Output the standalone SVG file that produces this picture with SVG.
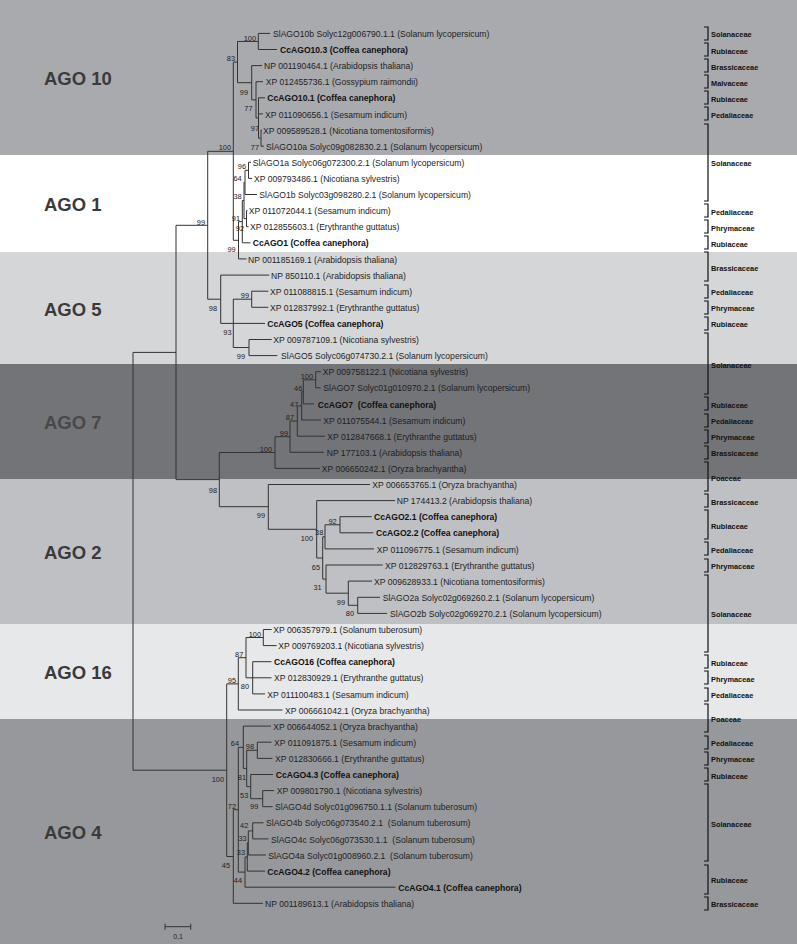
<svg xmlns="http://www.w3.org/2000/svg" width="797" height="944" viewBox="0 0 797 944">
<style>
.br{fill:none;stroke:#333;stroke-width:1}
.lf{font-family:"Liberation Sans",Arial,sans-serif;font-size:8.6px;fill:#1e1e1e;white-space:pre}
.b{font-weight:bold;fill:#111}
.bs{font-family:"Liberation Sans",Arial,sans-serif;font-size:7.4px;fill:#222;text-anchor:end}
.fam{font-family:"Liberation Sans",Arial,sans-serif;font-size:7.4px;font-weight:bold;fill:#111}
.bk{fill:none;stroke:#111;stroke-width:1.2}
.ago{font-family:"Liberation Sans",Arial,sans-serif;font-size:18.5px;font-weight:bold;fill:#3a3a3c}
</style>
<g id="bands">
<rect x="0" y="0" width="797" height="155" fill="#a9aaae"/>
<rect x="0" y="155" width="797" height="97" fill="#ffffff"/>
<rect x="0" y="252" width="797" height="112" fill="#d5d6d8"/>
<rect x="0" y="364" width="797" height="115" fill="#737478"/>
<rect x="0" y="479" width="797" height="145" fill="#bfc0c3"/>
<rect x="0" y="624" width="797" height="95" fill="#e7e8e9"/>
<rect x="0" y="719" width="797" height="225" fill="#97989b"/>
</g>
<g id="group-labels">
<text class="ago" x="44" y="84.5">AGO 10</text>
<text class="ago" x="44" y="211">AGO 1</text>
<text class="ago" x="44" y="315.5">AGO 5</text>
<text class="ago" x="44" y="428.5" fill="#48484b" style="fill:#48484b">AGO 7</text>
<text class="ago" x="44" y="558.5">AGO 2</text>
<text class="ago" x="44" y="679">AGO 16</text>
<text class="ago" x="44" y="839">AGO 4</text>
</g>
<g id="branches" class="br">
<path d="M133,352.4V770.2M133,352.4H176M176,225.3V479.6"/>
<path d="M176,225.3H207.7M207.7,151.3V299.2"/>
<path d="M207.7,151.3H233.3M233.3,62.1V240.3"/>
<path d="M233.3,62.1H237.5M237.5,41.45V82.7"/>
<path d="M237.5,41.45H258.3M258.3,33.4V49.5M258.3,33.4H270M258.3,49.5H277"/>
<path d="M237.5,82.7H251.7M251.7,65.6V99.85M251.7,65.6H262"/>
<path d="M251.7,99.85H256M256,81.7V118M256,81.7H263"/>
<path d="M256,118H258.5M258.5,97.8V138.15M258.5,97.8H265M258.5,113.9H263"/>
<path d="M258.5,138.15H261M261,130.1V146.2M261,130.1H262M261,146.2H264"/>
<path d="M233.3,240.3H238.5M238.5,221.65V258.9M238.5,258.9H246.5"/>
<path d="M238.5,221.65H242.3M242.3,200.5V242.8M242.3,242.8H250.5"/>
<path d="M242.3,200.5H244M244,182.4V218.65"/>
<path d="M244,182.4H245M245,170.35V194.5M245,194.5H257"/>
<path d="M245,170.35H248.5M248.5,162.3V178.4M248.5,162.3H251M248.5,178.4H252"/>
<path d="M244,218.65H246.5M246.5,210.6V226.7M246.5,210.6H247.5M246.5,226.7H248.5"/>
<path d="M207.7,299.2H220.7M220.7,275.1V323.4M220.7,275.1H269.3"/>
<path d="M220.7,323.4H233.3M233.3,299.2V347.5M233.3,323.4H265"/>
<path d="M233.3,299.2H251.7M251.7,291.2V307.3M251.7,291.2H268.3M251.7,307.3H268.3"/>
<path d="M233.3,347.5H249M249,339.5V355.6M249,339.5H271.7M249,355.6H277.3"/>
<path d="M176,479.6H219.3M219.3,452.5V506.7"/>
<path d="M219.3,452.5H275M275,436.7V468.4M275,468.4H320"/>
<path d="M275,436.7H290M290,421V452.3M290,452.3H324"/>
<path d="M290,421H297.3M297.3,405.9V436.2M297.3,436.2H325"/>
<path d="M297.3,405.9H301.7M301.7,391.8V420M301.7,420H321"/>
<path d="M301.7,391.8H303.3M303.3,379.8V403.9M303.3,403.9H314"/>
<path d="M303.3,379.8H315.7M315.7,371.7V387.8M315.7,371.7H321M315.7,387.8H320.5"/>
<path d="M219.3,506.7H268.3M268.3,484.5V529.3M268.3,484.5H370"/>
<path d="M268.3,529.3H316.7M316.7,500.6V558M316.7,500.6H395"/>
<path d="M316.7,558H322.7M322.7,536.8V579.1"/>
<path d="M322.7,536.8H325M325,524.8V548.9M325,548.9H374"/>
<path d="M325,524.8H340M340,516.7V532.8M340,516.7H371.7M340,532.8H373.3"/>
<path d="M322.7,579.1H326M326,565V593.2M326,565H382.7"/>
<path d="M326,593.2H348.3M348.3,581.1V605.3M348.3,581.1H372"/>
<path d="M348.3,605.3H357.7M357.7,597.3V613.4M357.7,597.3H380M357.7,613.4H387"/>
<path d="M133,770.2H226.7M226.7,683.9V856.5"/>
<path d="M226.7,683.9H238.3M238.3,657.7V710M238.3,710H282.5"/>
<path d="M238.3,657.7H246M246,637.5V677.8"/>
<path d="M246,637.5H263.3M263.3,629.5V645.6M263.3,629.5H271.7M263.3,645.6H276.7"/>
<path d="M246,677.8H252.7M252.7,661.7V693.9M252.7,661.7H271.5M252.7,677.8H271.5M252.7,693.9H265"/>
<path d="M226.7,856.5H233.3M233.3,809.7V903.3M233.3,903.3H263"/>
<path d="M233.3,809.7H238.3M238.3,747.3V872.1"/>
<path d="M238.3,747.3H243.3M243.3,726.1V768.4M243.3,726.1H271"/>
<path d="M243.3,768.4H246.7M246.7,750.3V786.6"/>
<path d="M246.7,750.3H257.3M257.3,742.2V758.4M257.3,742.2H271.5M257.3,758.4H272.5"/>
<path d="M246.7,786.6H250.7M250.7,774.5V798.7M250.7,774.5H273"/>
<path d="M250.7,798.7H262.7M262.7,790.6V806.7M262.7,790.6H274M262.7,806.7H272.5"/>
<path d="M238.3,872.1H245M245,857V887.2M245,887.2H395.5"/>
<path d="M245,857H247.3M247.3,842.9V871.1M247.3,871.1H265"/>
<path d="M247.3,842.9H248.3M248.3,830.9V855M248.3,855H266"/>
<path d="M248.3,830.9H252.7M252.7,822.8V838.9M252.7,822.8H263.5M252.7,838.9H268.5"/>
</g>
<g id="bootstrap" class="bs">
<text x="256" y="40.8">100</text>
<text x="235" y="61">83</text>
<text x="248" y="95.3">99</text>
<text x="252.5" y="111">77</text>
<text x="259" y="131">97</text>
<text x="259" y="150.3">77</text>
<text x="231" y="150.2">100</text>
<text x="205" y="224.7">99</text>
<text x="246" y="168.6">96</text>
<text x="241.7" y="181">64</text>
<text x="241.7" y="199.3">38</text>
<text x="240" y="221">91</text>
<text x="244" y="231">92</text>
<text x="235.7" y="252">99</text>
<text x="217" y="310.7">98</text>
<text x="231.5" y="335">93</text>
<text x="249" y="298.4">99</text>
<text x="245" y="358.7">99</text>
<text x="313" y="379.4">100</text>
<text x="302.3" y="391">46</text>
<text x="298.3" y="406.7">47</text>
<text x="294" y="420.4">87</text>
<text x="288" y="435.7">99</text>
<text x="272" y="451.7">100</text>
<text x="217" y="492.7">98</text>
<text x="265" y="518.4">99</text>
<text x="336.7" y="523.7">92</text>
<text x="323.3" y="534.7">38</text>
<text x="313" y="540.7">100</text>
<text x="320" y="569.7">65</text>
<text x="321.7" y="589.7">31</text>
<text x="345" y="604.7">99</text>
<text x="354" y="615.7">80</text>
<text x="261" y="636.7">100</text>
<text x="243.3" y="656.7">87</text>
<text x="236" y="683.4">95</text>
<text x="249" y="689.4">80</text>
<text x="224" y="781.7">100</text>
<text x="239" y="746">64</text>
<text x="254" y="749.4">98</text>
<text x="246" y="780.4">81</text>
<text x="248.3" y="797.7">53</text>
<text x="258.3" y="809.4">99</text>
<text x="236" y="808.7">72</text>
<text x="248.3" y="828.4">42</text>
<text x="246.7" y="841">33</text>
<text x="245" y="855">33</text>
<text x="230" y="868.4">45</text>
<text x="242" y="883.4">44</text>
</g>
<g id="leaves">
<g id="leaf-1"><text class="lf" x="273" y="37">SlAGO10b Solyc12g006790.1.1 (Solanum lycopersicum)</text></g>
<g id="leaf-2"><text class="lf b" x="280" y="53.1">CcAGO10.3 (Coffea canephora)</text></g>
<g id="leaf-3"><text class="lf" x="264" y="69.2">NP 001190464.1 (Arabidopsis thaliana)</text></g>
<g id="leaf-4"><text class="lf" x="265.7" y="85.3">XP 012455736.1 (Gossypium raimondii)</text></g>
<g id="leaf-5"><text class="lf b" x="267.3" y="101.4">CcAGO10.1 (Coffea canephora)</text></g>
<g id="leaf-6"><text class="lf" x="265" y="117.5">XP 011090656.1 (Sesamum indicum)</text></g>
<g id="leaf-7"><text class="lf" x="263" y="133.7">XP 009589528.1 (Nicotiana tomentosiformis)</text></g>
<g id="leaf-8"><text class="lf" x="266" y="149.8">SlAGO10a Solyc09g082830.2.1 (Solanum lycopersicum)</text></g>
<g id="leaf-9"><text class="lf" x="252.7" y="165.9">SlAGO1a Solyc06g072300.2.1 (Solanum lycopersicum)</text></g>
<g id="leaf-10"><text class="lf" x="254" y="182">XP 009793486.1 (Nicotiana sylvestris)</text></g>
<g id="leaf-11"><text class="lf" x="259.3" y="198.1">SlAGO1b Solyc03g098280.2.1 (Solanum lycopersicum)</text></g>
<g id="leaf-12"><text class="lf" x="248.7" y="214.2">XP 011072044.1 (Sesamum indicum)</text></g>
<g id="leaf-13"><text class="lf" x="250" y="230.3">XP 012855603.1 (Erythranthe guttatus)</text></g>
<g id="leaf-14"><text class="lf b" x="252.7" y="246.4">CcAGO1 (Coffea canephora)</text></g>
<g id="leaf-15"><text class="lf" x="248" y="262.5">NP 001185169.1 (Arabidopsis thaliana)</text></g>
<g id="leaf-16"><text class="lf" x="271" y="278.7">NP 850110.1 (Arabidopsis thaliana)</text></g>
<g id="leaf-17"><text class="lf" x="270" y="294.8">XP 011088815.1 (Sesamum indicum)</text></g>
<g id="leaf-18"><text class="lf" x="270" y="310.9">XP 012837992.1 (Erythranthe guttatus)</text></g>
<g id="leaf-19"><text class="lf b" x="267.3" y="327">CcAGO5 (Coffea canephora)</text></g>
<g id="leaf-20"><text class="lf" x="273.3" y="343.1">XP 009787109.1 (Nicotiana sylvestris)</text></g>
<g id="leaf-21"><text class="lf" x="281" y="359.2">SlAGO5 Solyc06g074730.2.1 (Solanum lycopersicum)</text></g>
<g id="leaf-22"><text class="lf" x="322.7" y="375.3">XP 009758122.1 (Nicotiana sylvestris)</text></g>
<g id="leaf-23"><text class="lf" x="323.3" y="391.4">SlAGO7 Solyc01g010970.2.1 (Solanum lycopersicum)</text></g>
<g id="leaf-24"><text class="lf b" x="317.7" y="407.5">CcAGO7  (Coffea canephora)</text></g>
<g id="leaf-25"><text class="lf" x="323.3" y="423.6">XP 011075544.1 (Sesamum indicum)</text></g>
<g id="leaf-26"><text class="lf" x="327.3" y="439.8">XP 012847668.1 (Erythranthe guttatus)</text></g>
<g id="leaf-27"><text class="lf" x="326.7" y="455.9">NP 177103.1 (Arabidopsis thaliana)</text></g>
<g id="leaf-28"><text class="lf" x="321.7" y="472">XP 006650242.1 (Oryza brachyantha)</text></g>
<g id="leaf-29"><text class="lf" x="372.3" y="488.1">XP 006653765.1 (Oryza brachyantha)</text></g>
<g id="leaf-30"><text class="lf" x="396.7" y="504.2">NP 174413.2 (Arabidopsis thaliana)</text></g>
<g id="leaf-31"><text class="lf b" x="374" y="520.3">CcAGO2.1 (Coffea canephora)</text></g>
<g id="leaf-32"><text class="lf b" x="376" y="536.4">CcAGO2.2 (Coffea canephora)</text></g>
<g id="leaf-33"><text class="lf" x="376.7" y="552.5">XP 011096775.1 (Sesamum indicum)</text></g>
<g id="leaf-34"><text class="lf" x="385" y="568.6">XP 012829763.1 (Erythranthe guttatus)</text></g>
<g id="leaf-35"><text class="lf" x="374" y="584.7">XP 009628933.1 (Nicotiana tomentosiformis)</text></g>
<g id="leaf-36"><text class="lf" x="382.7" y="600.9">SlAGO2a Solyc02g069260.2.1 (Solanum lycopersicum)</text></g>
<g id="leaf-37"><text class="lf" x="390" y="617">SlAGO2b Solyc02g069270.2.1 (Solanum lycopersicum)</text></g>
<g id="leaf-38"><text class="lf" x="273.3" y="633.1">XP 006357979.1 (Solanum tuberosum)</text></g>
<g id="leaf-39"><text class="lf" x="278.3" y="649.2">XP 009769203.1 (Nicotiana sylvestris)</text></g>
<g id="leaf-40"><text class="lf b" x="274" y="665.3">CcAGO16 (Coffea canephora)</text></g>
<g id="leaf-41"><text class="lf" x="274" y="681.4">XP 012830929.1 (Erythranthe guttatus)</text></g>
<g id="leaf-42"><text class="lf" x="267.3" y="697.5">XP 011100483.1 (Sesamum indicum)</text></g>
<g id="leaf-43"><text class="lf" x="285" y="713.6">XP 006661042.1 (Oryza brachyantha)</text></g>
<g id="leaf-44"><text class="lf" x="273.3" y="729.7">XP 006644052.1 (Oryza brachyantha)</text></g>
<g id="leaf-45"><text class="lf" x="274" y="745.8">XP 011091875.1 (Sesamum indicum)</text></g>
<g id="leaf-46"><text class="lf" x="275" y="762">XP 012830666.1 (Erythranthe guttatus)</text></g>
<g id="leaf-47"><text class="lf b" x="275.7" y="778.1">CcAGO4.3 (Coffea canephora)</text></g>
<g id="leaf-48"><text class="lf" x="276.7" y="794.2">XP 009801790.1 (Nicotiana sylvestris)</text></g>
<g id="leaf-49"><text class="lf" x="275" y="810.3">SlAGO4d Solyc01g096750.1.1 (Solanum tuberosum)</text></g>
<g id="leaf-50"><text class="lf" x="266" y="826.4">SlAGO4b Solyc06g073540.2.1  (Solanum tuberosum)</text></g>
<g id="leaf-51"><text class="lf" x="271" y="842.5">SlAGO4c Solyc06g073530.1.1  (Solanum tuberosum)</text></g>
<g id="leaf-52"><text class="lf" x="268.3" y="858.6">SlAGO4a Solyc01g008960.2.1  (Solanum tuberosum)</text></g>
<g id="leaf-53"><text class="lf b" x="267.3" y="874.7">CcAGO4.2 (Coffea canephora)</text></g>
<g id="leaf-54"><text class="lf b" x="398.3" y="890.8">CcAGO4.1 (Coffea canephora)</text></g>
<g id="leaf-55"><text class="lf" x="265" y="906.9">NP 001189613.1 (Arabidopsis thaliana)</text></g>
</g>
<g id="families">
<path class="bk" d="M704,27H708V40H704M704,43H708V56H704M704,59H708V72H704M704,75H708V88H704M704,91H708V104H704M704,107H708V120H704M704,124H708V201H704M704,204H708V217H704M704,220H708V233H704M704,236H708V249H704M704,252H708V281H704M704,285H708V298H704M704,301H708V314H704M704,317H708V330H704M704,333H708V394H704M704,397H708V410H704M704,414H708V427H704M704,430H708V443H704M704,446H708V459H704M704,462H708V491H704M704,494H708V507H704M704,510H708V539H704M704,542H708V555H704M704,559H708V572H704M704,575H708V652H704M704,655H708V668H704M704,671H708V684H704M704,688H708V701H704M704,704H708V732H704M704,736H708V749H704M704,752H708V765H704M704,768H708V781H704M704,784H708V861H704M704,865H708V894H704M704,897H708V910H704"/>
<text class="fam" x="711" y="37.4">Solanaceae</text>
<text class="fam" x="711" y="53.5">Rubiaceae</text>
<text class="fam" x="711" y="69.6">Brassicaceae</text>
<text class="fam" x="711" y="85.7">Malvaceae</text>
<text class="fam" x="711" y="101.8">Rubiaceae</text>
<text class="fam" x="711" y="117.9">Pedaliaceae</text>
<text class="fam" x="711" y="166.3">Solanaceae</text>
<text class="fam" x="711" y="214.6">Pedaliaceae</text>
<text class="fam" x="711" y="230.7">Phrymaceae</text>
<text class="fam" x="711" y="246.8">Rubiaceae</text>
<text class="fam" x="711" y="271">Brassicaceae</text>
<text class="fam" x="711" y="295.2">Pedaliaceae</text>
<text class="fam" x="711" y="311.3">Phrymaceae</text>
<text class="fam" x="711" y="327.4">Rubiaceae</text>
<text class="fam" x="711" y="367.7">Solanaceae</text>
<text class="fam" x="711" y="407.9">Rubiaceae</text>
<text class="fam" x="711" y="424">Pedaliaceae</text>
<text class="fam" x="711" y="440.2">Phrymaceae</text>
<text class="fam" x="711" y="456.3">Brassicaceae</text>
<text class="fam" x="711" y="480.5">Poaceae</text>
<text class="fam" x="711" y="504.6">Brassicaceae</text>
<text class="fam" x="711" y="528.8">Rubiaceae</text>
<text class="fam" x="711" y="552.9">Pedaliaceae</text>
<text class="fam" x="711" y="569">Phrymaceae</text>
<text class="fam" x="711" y="617.4">Solanaceae</text>
<text class="fam" x="711" y="665.7">Rubiaceae</text>
<text class="fam" x="711" y="681.8">Phrymaceae</text>
<text class="fam" x="711" y="697.9">Pedaliaceae</text>
<text class="fam" x="711" y="722">Poaceae</text>
<text class="fam" x="711" y="746.2">Pedaliaceae</text>
<text class="fam" x="711" y="762.4">Phrymaceae</text>
<text class="fam" x="711" y="778.5">Rubiaceae</text>
<text class="fam" x="711" y="826.8">Solanaceae</text>
<text class="fam" x="711" y="883.2">Rubiaceae</text>
<text class="fam" x="711" y="907.3">Brassicaceae</text>
</g>
<g id="scale-bar">
<path class="br" d="M165,926.7H190.7M165,923.7V929.7M190.7,923.7V929.7"/>
<text x="178" y="938.5" style="font-family:'Liberation Sans',Arial,sans-serif;font-size:7px;fill:#222;text-anchor:middle">0,1</text>
</g>
</svg>
